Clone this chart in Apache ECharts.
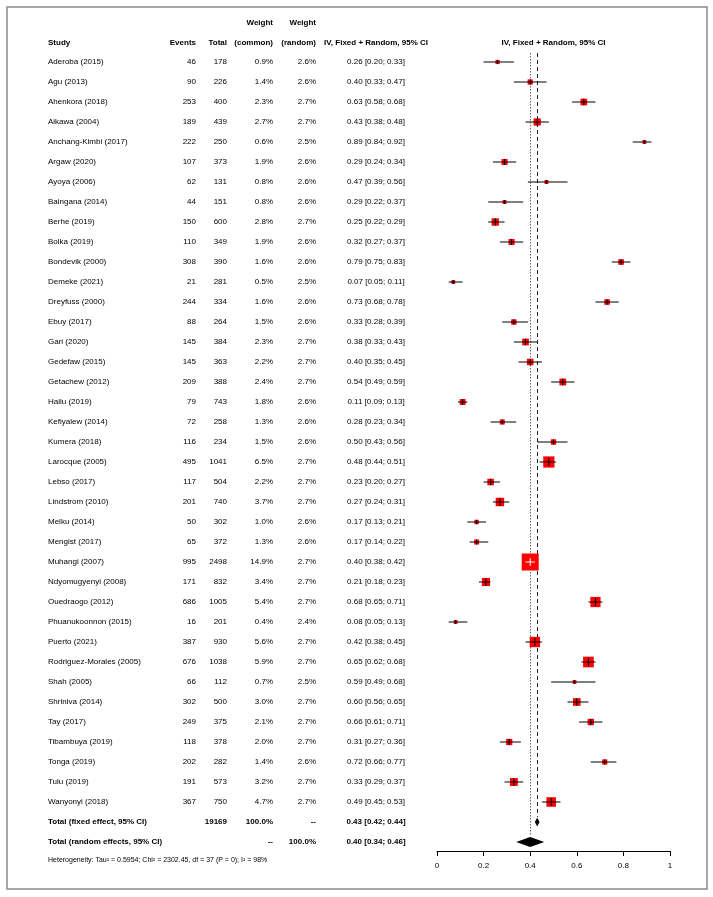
<!DOCTYPE html>
<html>
<head>
<meta charset="utf-8">
<script src="https://cdn.jsdelivr.net/npm/echarts@6/dist/echarts.min.js"></script>
<style>
  html, body { margin: 0; padding: 0; background: #fff; }
  #main { width: 713px; height: 897px; }
</style>
</head>
<body>
<div id="main"></div>
<script>
// study data
const studies = ["Aderoba (2015)", "Agu (2013)", "Ahenkora (2018)", "Aikawa (2004)", "Anchang-Kimbi (2017)",
  "Argaw (2020)", "Ayoya (2006)", "Baingana (2014)", "Berhe (2019)", "Bolka (2019)", "Bondevik (2000)",
  "Demeke (2021)", "Dreyfuss (2000)", "Ebuy (2017)", "Gari (2020)", "Gedefaw (2015)", "Getachew (2012)",
  "Hailu (2019)", "Kefiyalew (2014)", "Kumera (2018)", "Larocque (2005)", "Lebso (2017)", "Lindstrom (2010)",
  "Melku (2014)", "Mengist (2017)", "Muhangi (2007)", "Ndyomugyenyi (2008)", "Ouedraogo (2012)",
  "Phuanukoonnon (2015)", "Puerto (2021)", "Rodriguez-Morales (2005)", "Shah (2005)", "Shriniva (2014)",
  "Tay (2017)", "Tibambuya (2019)", "Tonga (2019)", "Tulu (2019)", "Wanyonyi (2018)"];
const events = [46, 90, 253, 189, 222, 107, 62, 44, 150, 110, 308, 21, 244, 88, 145, 145, 209, 79, 72, 116,
  495, 117, 201, 50, 65, 995, 171, 686, 16, 387, 676, 66, 302, 249, 118, 202, 191, 367];
const totals = [178, 226, 400, 439, 250, 373, 131, 151, 600, 349, 390, 281, 334, 264, 384, 363, 388, 743, 258,
  234, 1041, 504, 740, 302, 372, 2498, 832, 1005, 201, 930, 1038, 112, 500, 375, 378, 282, 573, 750];
const weightCommon = [0.9, 1.4, 2.3, 2.7, 0.6, 1.9, 0.8, 0.8, 2.8, 1.9, 1.6, 0.5, 1.6, 1.5, 2.3, 2.2, 2.4, 1.8,
  1.3, 1.5, 6.5, 2.2, 3.7, 1.0, 1.3, 14.9, 3.4, 5.4, 0.4, 5.6, 5.9, 0.7, 3.0, 2.1, 2.0, 1.4, 3.2, 4.7];
const weightRandom = [2.6, 2.6, 2.7, 2.7, 2.5, 2.6, 2.6, 2.6, 2.7, 2.6, 2.6, 2.5, 2.6, 2.6, 2.7, 2.7, 2.7, 2.6,
  2.6, 2.6, 2.7, 2.7, 2.7, 2.6, 2.6, 2.7, 2.7, 2.7, 2.4, 2.7, 2.7, 2.5, 2.7, 2.7, 2.7, 2.6, 2.7, 2.7];
const estimate = [0.26, 0.40, 0.63, 0.43, 0.89, 0.29, 0.47, 0.29, 0.25, 0.32, 0.79, 0.07, 0.73, 0.33, 0.38,
  0.40, 0.54, 0.11, 0.28, 0.50, 0.48, 0.23, 0.27, 0.17, 0.17, 0.40, 0.21, 0.68, 0.08, 0.42, 0.65, 0.59, 0.60,
  0.66, 0.31, 0.72, 0.33, 0.49];
const lower = [0.20, 0.33, 0.58, 0.38, 0.84, 0.24, 0.39, 0.22, 0.22, 0.27, 0.75, 0.05, 0.68, 0.28, 0.33, 0.35,
  0.49, 0.09, 0.23, 0.43, 0.44, 0.20, 0.24, 0.13, 0.14, 0.38, 0.18, 0.65, 0.05, 0.38, 0.62, 0.49, 0.56, 0.61,
  0.27, 0.66, 0.29, 0.45];
const upper = [0.33, 0.47, 0.68, 0.48, 0.92, 0.34, 0.56, 0.37, 0.29, 0.37, 0.83, 0.11, 0.78, 0.39, 0.43, 0.45,
  0.59, 0.13, 0.34, 0.56, 0.51, 0.27, 0.31, 0.21, 0.22, 0.42, 0.23, 0.71, 0.13, 0.45, 0.68, 0.68, 0.65, 0.71,
  0.36, 0.77, 0.37, 0.53];

// pooled results: fixed, random
const pooledLabels = ["Total (fixed effect, 95% CI)", "Total (random effects, 95% CI)"];
const pooledTotal = ["19169", ""];
const pooledWeightCommon = ["100.0%", "--"];
const pooledWeightRandom = ["--", "100.0%"];
const pooledEst = [0.43, 0.40];
const pooledLower = [0.42, 0.34];
const pooledUpper = [0.44, 0.46];

const heterogeneity = "Heterogeneity: Tau\u00b2 = 0.5954; Chi\u00b2 = 2302.45, df = 37 (P = 0); I\u00b2 = 98%";
const xTicks = { min: 0, max: 1, interval: 0.2 };

const FONT = '"Liberation Sans", Arial, sans-serif';
const ci = (e, l, u) => e.toFixed(2) + ' [' + l.toFixed(2) + '; ' + u.toFixed(2) + ']';

// table rows built from the arrays above
const tableRows = studies.map((s, i) => ({
  row: i, bold: false,
  cells: [s, String(events[i]), String(totals[i]), weightCommon[i].toFixed(1) + '%',
    weightRandom[i].toFixed(1) + '%', ci(estimate[i], lower[i], upper[i])]
}));
pooledLabels.forEach((s, k) => tableRows.push({
  row: studies.length + k, bold: true,
  cells: [s, '', pooledTotal[k], pooledWeightCommon[k], pooledWeightRandom[k],
    ci(pooledEst[k], pooledLower[k], pooledUpper[k])]
}));

// column x positions and alignment
const cols = [[48, 'left'], [196, 'right'], [227, 'right'], [273, 'right'], [316, 'right'], [376, 'center']];

function txt(x, y, text, align, bold, size) {
  return {
    type: 'text',
    style: {
      x: x, y: y, text: text, align: align, verticalAlign: 'middle',
      textAlign: align, textVerticalAlign: 'middle',
      font: (bold ? 'bold ' : '') + (size || 8) + 'px ' + FONT, fill: '#000'
    }
  };
}

const chart = echarts.init(document.getElementById('main'));
chart.setOption({
  animation: false,
  backgroundColor: '#fff',
  grid: { left: 437, width: 233, top: 12, bottom: 46 },
  xAxis: {
    type: 'value', min: xTicks.min, max: xTicks.max, interval: xTicks.interval,
    splitLine: { show: false },
    axisLine: { show: true, onZero: false, lineStyle: { color: '#000', width: 1 } },
    axisTick: { show: true, length: 5, lineStyle: { color: '#000' } },
    axisLabel: { fontSize: 8, fontFamily: FONT, color: '#000', margin: 11 }
  },
  yAxis: { type: 'value', inverse: true, min: -2.5, max: 39.45, show: false },
  graphic: [
    { type: 'rect', shape: { x: 7, y: 7, width: 700, height: 882 },
      style: { fill: 'none', stroke: '#8a8a8a', lineWidth: 1.5 }, silent: true },
    txt(273, 23, 'Weight', 'right', true),
    txt(316, 23, 'Weight', 'right', true),
    txt(48, 43, 'Study', 'left', true),
    txt(196, 43, 'Events', 'right', true),
    txt(227, 43, 'Total', 'right', true),
    txt(273, 43, '(common)', 'right', true),
    txt(316, 43, '(random)', 'right', true),
    txt(376, 43, 'IV, Fixed + Random, 95% CI', 'center', true),
    txt(553.5, 43, 'IV, Fixed + Random, 95% CI', 'center', true),
    txt(48, 860, heterogeneity, 'left', false, 7)
  ],
  series: [
    {
      // reference lines: random (dotted) and fixed (dashed)
      type: 'custom', clip: false, z: 1,
      data: [[pooledEst[1], -0.45, 38.7, 0], [pooledEst[0], -0.45, 37.75, 1]],
      renderItem: function (params, api) {
        const a = api.coord([api.value(0), api.value(1)]);
        const b = api.coord([api.value(0), api.value(2)]);
        const dotted = api.value(3) === 0;
        return {
          type: 'line',
          shape: { x1: Math.round(a[0]) + 0.5, y1: a[1], x2: Math.round(b[0]) + 0.5, y2: b[1] },
          style: { stroke: dotted ? '#666' : '#222', lineWidth: 1, lineDash: dotted ? [1.5, 1.5] : [4, 3] }
        };
      }
    },
    {
      // study squares with CI lines
      type: 'custom', clip: false, z: 2,
      data: studies.map((s, i) => [i, estimate[i], lower[i], upper[i], weightCommon[i]]),
      renderItem: function (params, api) {
        const r = api.value(0);
        const p = api.coord([api.value(1), r]);
        const lo = api.coord([api.value(2), r]);
        const hi = api.coord([api.value(3), r]);
        const s = Math.max(3.8, 17 * Math.sqrt(api.value(4) / 14.9));
        const inside = (hi[0] - lo[0]) < s;
        const col = inside ? '#fff' : '#000';
        const t = Math.min(s, 8);
        return {
          type: 'group',
          children: [
            { type: 'rect', shape: { x: p[0] - s / 2, y: p[1] - s / 2, width: s, height: s },
              style: { fill: '#ff0000' } },
            { type: 'line', shape: { x1: lo[0], y1: p[1], x2: hi[0], y2: p[1] },
              style: { stroke: col, lineWidth: 1 } },
            { type: 'line', shape: { x1: p[0], y1: p[1] - t / 2, x2: p[0], y2: p[1] + t / 2 },
              style: { stroke: col, lineWidth: 1 } }
          ]
        };
      }
    },
    {
      // pooled diamonds
      type: 'custom', clip: false, z: 2,
      data: pooledEst.map((e, k) => [studies.length + k, e, pooledLower[k], pooledUpper[k]]),
      renderItem: function (params, api) {
        const r = api.value(0);
        const p = api.coord([api.value(1), r]);
        const lo = api.coord([api.value(2), r]);
        const hi = api.coord([api.value(3), r]);
        const h = params.dataIndex === 0 ? 4.5 : 5;
        return {
          type: 'polygon',
          shape: { points: [[lo[0], p[1]], [p[0], p[1] - h], [hi[0], p[1]], [p[0], p[1] + h]] },
          style: { fill: '#000' }
        };
      }
    },
    {
      // table text
      type: 'custom', clip: false, z: 3,
      data: tableRows.map(t => [0, t.row]),
      renderItem: function (params, api) {
        const t = tableRows[params.dataIndex];
        const y = api.coord([0, api.value(1)])[1];
        return {
          type: 'group',
          children: t.cells.map((c, j) => txt(cols[j][0], y, c, cols[j][1], t.bold))
        };
      }
    }
  ]
});
</script>
</body>
</html>
